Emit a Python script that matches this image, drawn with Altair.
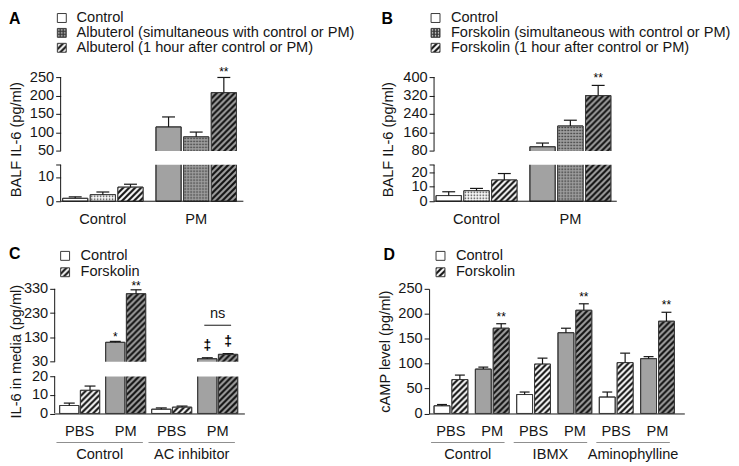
import altair as alt
import pandas as pd
from urllib.parse import quote

FONT = "Liberation Sans"
FS = 14.7
INK = "#161616"
EDGE = "#3a3a3a"
GRAY = "#a2a2a2"
LINEGRAY = "#8f8f8f"

# ---------------- values ----------------
A_groups = ["Control", "PM"]
A_legend = ["Control", "Albuterol (simultaneous with control or PM)", "Albuterol (1 hour after control or PM)"]
A_ctrl_mean = [1.2, 2.7, 5.8]
A_ctrl_sem = [0.6, 1.1, 1.2]
A_pm_mean = [115, 88, 208]
A_pm_sem = [27, 13, 41]
A_ticks = [0, 10, 15, 50, 100, 150, 200, 250]

B_groups = ["Control", "PM"]
B_legend = ["Control", "Forskolin (simultaneous with control or PM)", "Forskolin (1 hour after control or PM)"]
B_ctrl_mean = [3.9, 7.2, 14.6]
B_ctrl_sem = [2.6, 1.6, 4.4]
B_pm_mean = [98, 188, 320]
B_pm_sem = [16, 25, 44]
B_ticks = [0, 10, 20, 25, 80, 160, 240, 320, 400]

C_groups = ["Control", "AC inhibitor"]
C_stims = ["PBS", "PM"]
C_legend = ["Control", "Forskolin"]
C_ctrl_mean = [4.3, 109.5, 2.3, 42]
C_ctrl_sem = [1.3, 4, 0.7, 4]
C_fsk_mean = [12.5, 310, 3.4, 60]
C_fsk_sem = [2.3, 16, 0.6, 3]
C_ticks = [0, 10, 20, 30, 130, 230, 330]
C_ns_level = [180]

D_groups = ["Control", "IBMX", "Aminophylline"]
D_stims = ["PBS", "PM"]
D_legend = ["Control", "Forskolin"]
D_ctrl_mean = [15.5, 89, 38, 162, 33, 110]
D_ctrl_sem = [2.5, 4, 5, 9, 10, 4]
D_fsk_mean = [68, 171, 99, 207, 102, 185]
D_fsk_sem = [9, 9, 12, 13, 19, 18]
D_ticks = [0, 50, 100, 150, 200, 250]

DUMMY = pd.DataFrame({"k": [0]})


def svg_uri(s):
    return "data:image/svg+xml;charset=utf-8," + quote(s, safe="")


def hatch_svg(bg):
    return ("<svg xmlns='http://www.w3.org/2000/svg'><defs>"
            "<pattern id='p' width='6' height='6' patternUnits='userSpaceOnUse'>"
            f"<rect width='6' height='6' fill='{bg}'/>"
            "<path d='M-1,1 L1,-1 M0,6 L6,0 M5,7 L7,5' stroke='#111' stroke-width='2.2'/>"
            "</pattern></defs><rect width='100%' height='100%' fill='url(#p)'/></svg>")


def dot_svg(bg, dot):
    return ("<svg xmlns='http://www.w3.org/2000/svg'><defs>"
            "<pattern id='p' width='3' height='3' patternUnits='userSpaceOnUse'>"
            f"<rect width='3' height='3' fill='{bg}'/>"
            f"<rect x='0.8' y='0.8' width='1.4' height='1.4' fill='{dot}'/>"
            "</pattern></defs><rect width='100%' height='100%' fill='url(#p)'/></svg>")


U_HW = svg_uri(hatch_svg("#ffffff"))
U_HG = svg_uri(hatch_svg(GRAY))
U_DW = svg_uri(dot_svg("#ffffff", "#222"))
U_DG = svg_uri(dot_svg(GRAY, "#222"))
U_DL = svg_uri(dot_svg("#333", "#ffffff"))
URL_EXPR = (f"datum.pat == 'hatch' ? (datum.bg == 'gray' ? '{U_HG}' : '{U_HW}') : "
            f"(datum.bg == 'gray' ? '{U_DG}' : '{U_DW}')")
LEG_URL = {"hatch": U_HW, "dot": U_DL}


def df_grouped(groups, ctrl_mean, ctrl_sem, pm_mean, pm_sem):
    pats = ["none", "dot", "hatch"]
    rows = []
    for g, means, sems in [(groups[0], ctrl_mean, ctrl_sem), (groups[1], pm_mean, pm_sem)]:
        for i, (mu, se) in enumerate(zip(means, sems)):
            rows.append(dict(x=g, t=f"t{i}", mean=mu, top=mu + se,
                             bg="white" if g == groups[0] else "gray", pat=pats[i]))
    return pd.DataFrame(rows)


def df_cond(groups, stims, ctrl_mean, ctrl_sem, fsk_mean, fsk_sem):
    conds = [f"{g}|{s}" for g in groups for s in stims]
    rows = []
    for k, c in enumerate(conds):
        s = c.split("|")[1]
        for t, mu, se, pat in [("t0", ctrl_mean[k], ctrl_sem[k], "none"),
                               ("t1", fsk_mean[k], fsk_sem[k], "hatch")]:
            rows.append(dict(x=c, t=t, mean=mu, top=mu + se,
                             bg="white" if s == "PBS" else "gray", pat=pat))
    return pd.DataFrame(rows), conds


def band_scale(domain, W, start, step, bw):
    n = len(domain)
    pi = 1 - bw / step
    po = (W / step - n + pi) / 2
    rem = W - step * (n - pi)
    return alt.Scale(domain=domain, paddingInner=pi, paddingOuter=po, align=start / rem)


def disp_py(v, m):
    if m is None:
        return v
    lo, lp, um, up0, uM, H = m
    return v * lp / lo if v <= lo else up0 + (v - um) * (H - up0) / (uM - um)


def disp_js(f, m):
    if m is None:
        return f"datum.{f}"
    lo, lp, um, up0, uM, H = m
    return (f"(datum.{f} <= {lo} ? datum.{f} * {lp / lo} : "
            f"{up0} + (datum.{f} - {um}) * {(H - up0) / (uM - um)})")


def label_js(m, blank_top):
    if m is None:
        return "datum.label"
    lo, lp, um, up0, uM, H = m
    low = f"format(datum.value * {lo / lp}, '.0f')"
    up = f"format({um} + (datum.value - {up0}) * {(uM - um) / (H - up0)}, '.0f')"
    e = f"datum.value < {(lp + up0) / 2} ? {low} : {up}"
    if blank_top:
        e = f"abs(datum.value - {lp}) < 0.3 ? '' : ({e})"
    return e


def legend_layers(items, sq_x, txt_x, rows, size=9):
    out = []
    for (kind, label), cy in zip(items, rows):
        box = dict(x=alt.value(sq_x), x2=alt.value(sq_x + size),
                   y=alt.value(cy - size / 2), y2=alt.value(cy + size / 2))
        if kind == "plain":
            out.append(alt.Chart(DUMMY).mark_rect(fill="white", stroke=EDGE, strokeWidth=1).encode(**box))
        else:
            out.append(alt.Chart(DUMMY).mark_image(aspect=False).encode(url=alt.value(LEG_URL[kind]), **box))
            out.append(alt.Chart(DUMMY).mark_rect(fillOpacity=0, stroke=EDGE, strokeWidth=1).encode(**box))
        out.append(alt.Chart(DUMMY).mark_text(text=label, align="left", baseline="middle", fontSize=FS,
                                              font=FONT, color=INK)
                   .encode(x=alt.value(txt_x), y=alt.value(cy)))
    return out


AX_STYLE = dict(labelFont=FONT, titleFont=FONT, labelFontSize=FS, titleFontSize=FS, titleFontWeight="normal",
                labelColor=INK, titleColor=INK, domainColor=INK, tickColor=INK, domainWidth=1, tickWidth=1,
                grid=False, labelOverlap=False)


def make_panel(P):
    df, m, W, H = P["df"], P["m"], P["W"], P["H"]
    ax_x = P["axis_x"]
    ys = alt.Scale(domain=[0, H if m else P["ymax"]], nice=False)
    xs = P["xscale"]
    ykw = dict(title=P["ytitle"], titlePadding=P["title_pad"], domain=(m is None),
               tickSize=5, labelPadding=2, values=[disp_py(v, m) for v in P["ticks"]],
               labelExpr=label_js(m, P["blank_top"]), **AX_STYLE)
    if ax_x:
        ykw["offset"] = -ax_x
    yaxis = alt.Axis(**ykw)
    xkw = dict(title=None, labelAngle=0, ticks=False, labelPadding=10, domain=(ax_x == 0), **AX_STYLE)
    if P.get("xlabel_expr"):
        xkw["labelExpr"] = P["xlabel_expr"]
    xaxis = alt.Axis(**xkw)

    def X(**kw):
        return alt.X("x:N", scale=xs, axis=xaxis, **kw)

    def Y(f):
        return alt.Y(f"{f}:Q", scale=ys, axis=yaxis)

    base = alt.Chart(df).transform_calculate(yb=disp_js("mean", m), yt=disp_js("top", m))
    fill = alt.Fill("bg:N", scale=alt.Scale(domain=["white", "gray"], range=["#ffffff", GRAY]), legend=None)
    treats = P["treats"]
    n = len(treats)
    bar, gapw = P["bar"], P["gap"]
    dxs = {t: (i - (n - 1) / 2) * (bar + gapw) for i, t in enumerate(treats)}
    layers = []
    err_layers = []
    for t in treats:
        dx = dxs[t]
        sub = base.transform_filter(f"datum.t == '{t}'")
        layers.append(sub.mark_bar(width=bar, xOffset=dx, stroke=EDGE, strokeWidth=1).encode(
            x=X(), y=Y("yb"), fill=fill))
        layers.append(sub.transform_filter("datum.pat != 'none'").transform_calculate(url=URL_EXPR)
                      .mark_image(width=bar, xOffset=dx, aspect=False)
                      .encode(x=X(), y=Y("yb"), y2=alt.datum(0), url="url:N"))
        layers.append(sub.mark_bar(width=bar, xOffset=dx, fillOpacity=0, stroke=EDGE, strokeWidth=1)
                      .encode(x=X(), y=Y("yb")))
        err_layers.append(sub.mark_rule(xOffset=dx, color=INK, strokeWidth=1.2)
                          .encode(x=X(), y=Y("yb"), y2="yt:Q"))
        err_layers.append(sub.mark_tick(xOffset=dx, orient="horizontal", size=P["cap"], thickness=1.2,
                                        color=INK, opacity=1).encode(x=X(), y=Y("yt")))
    if m is not None:
        lo, lp, um, up0, uM, _ = m
        gap = alt.Chart(pd.DataFrame({"lo": [lo], "hi": [um]})).transform_calculate(
            a=disp_js("lo", m), b=disp_js("hi", m))
        layers.append(gap.mark_rect(fill="white").encode(
            x=alt.value(ax_x + 0.7), x2=alt.value(W), y=Y("a"), y2="b:Q"))
        seg = alt.Chart(pd.DataFrame({"s": [0, um], "e": [lo, uM]})).transform_calculate(
            a=disp_js("s", m), b=disp_js("e", m))
        layers.append(seg.mark_rule(color=INK, strokeWidth=1).encode(x=alt.value(ax_x), y=Y("a"), y2="b:Q"))
    if ax_x != 0:
        layers.append(alt.Chart(DUMMY).mark_rule(color=INK, strokeWidth=1).encode(
            x=alt.value(ax_x), x2=alt.value(W), y=alt.value(H)))
    layers += err_layers
    for (xv, t, lab, dy, size, weight) in P.get("annots", []):
        sub = df[(df.x == xv) & (df.t == t)].assign(lab=lab)
        layers.append(alt.Chart(sub).transform_calculate(yt=disp_js("top", m)).mark_text(
            baseline="alphabetic", dy=dy, xOffset=dxs[t], fontSize=size, fontWeight=weight,
            font=FONT, color="#000").encode(x=X(), y=Y("yt"), text="lab:N"))
    if P.get("ns"):
        xv, lvl, length = P["ns"]
        nsbase = alt.Chart(pd.DataFrame({"x": [xv], "lvl": [lvl]})).transform_calculate(yl=disp_js("lvl", m))
        layers.append(nsbase.mark_tick(orient="horizontal", size=length, thickness=1, color=INK, opacity=1)
                      .encode(x=X(), y=Y("yl")))
        layers.append(nsbase.mark_text(text="ns", baseline="alphabetic", dy=-7, fontSize=FS, font=FONT,
                                       color=INK).encode(x=X(), y=Y("yl")))
    if P.get("groups"):
        gdf = pd.DataFrame(P["groups"])
        layers.append(alt.Chart(gdf).mark_tick(orient="horizontal", size=P["gline"], thickness=1,
                                               xOffset=P["bw"] / 2, color=LINEGRAY, opacity=1).encode(
            x=X(), y=alt.value(H + 29.3)))
        layers.append(alt.Chart(gdf).mark_text(baseline="middle", fontSize=FS, font=FONT, color=INK,
                                               xOffset=P["bw"] / 2).encode(
            x=X(), y=alt.value(H + 42.3), text="label:N"))
    layers += legend_layers(P["legend"], P["sq_x"], P["txt_x"], P["legend_rows"])
    layers.append(alt.Chart(DUMMY).mark_text(text=P["letter"], fontSize=16, fontWeight="bold", font=FONT,
                                             align="left", baseline="middle", color="#000").encode(
        x=alt.value(P["letter_xy"][0]), y=alt.value(P["letter_xy"][1])))
    if P.get("anchor"):
        ax, ay = P["anchor"]
        layers.append(alt.Chart(DUMMY).mark_rule(opacity=0).encode(
            x=alt.value(ax), x2=alt.value(ax), y=alt.value(ay), y2=alt.value(ay)))
    return alt.layer(*layers).properties(width=W, height=H)


# ---------------- panel A ----------------
dfA = df_grouped(A_groups, A_ctrl_mean, A_ctrl_sem, A_pm_mean, A_pm_sem)
pA = make_panel(dict(
    df=dfA, m=(15, 36.7, 50, 50.7, 250, 125), W=190, H=125, axis_x=6,
    xscale=band_scale(A_groups, 190, 8, 94, 81), treats=["t0", "t1", "t2"], bar=25.33, gap=2.5, bw=81,
    ticks=A_ticks, blank_top=True, ytitle="BALF IL-6 (pg/ml)", title_pad=6, cap=13,
    annots=[("PM", "t2", "**", -1, 12, "normal")],
    legend=list(zip(["plain", "dot", "hatch"], A_legend)), sq_x=2.7, txt_x=22,
    legend_rows=[-59.5, -44.5, -29.5], letter="A", letter_xy=(-46, -58.5), anchor=(-46, -67)))

# ---------------- panel B ----------------
dfB = df_grouped(B_groups, B_ctrl_mean, B_ctrl_sem, B_pm_mean, B_pm_sem)
pB = make_panel(dict(
    df=dfB, m=(25, 36.7, 80, 50.7, 400, 125), W=189, H=125, axis_x=5,
    xscale=band_scale(B_groups, 189, 7, 94.5, 81.5), treats=["t0", "t1", "t2"], bar=25.5, gap=2.5, bw=81.5,
    ticks=B_ticks, blank_top=True, ytitle="BALF IL-6 (pg/ml)", title_pad=7, cap=13,
    annots=[("PM", "t2", "**", -3, 12, "normal")],
    legend=list(zip(["plain", "dot", "hatch"], B_legend)), sq_x=2, txt_x=22,
    legend_rows=[-59.5, -44.5, -29.5], letter="B", letter_xy=(-48, -58.5)))

# ---------------- panel C ----------------
dfC, C_conds = df_cond(C_groups, C_stims, C_ctrl_mean, C_ctrl_sem, C_fsk_mean, C_fsk_sem)
pC = make_panel(dict(
    df=dfC, m=(20, 37.3, 30, 52.2, 330, 125.5), W=191, H=125.5, axis_x=0,
    xscale=band_scale(C_conds, 191, 5, 46.33, 40.3), treats=["t0", "t1"], bar=19.4, gap=1.5, bw=40.3,
    ticks=C_ticks, blank_top=False, ytitle="IL-6 in media (pg/ml)", title_pad=0, cap=11,
    xlabel_expr="split(datum.label, '|')[1]",
    annots=[(C_conds[1], "t0", "*", 0, 12, "normal"), (C_conds[1], "t1", "**", 0, 12, "normal"),
            (C_conds[3], "t0", "\u2021", -8, 14, "bold"), (C_conds[3], "t1", "\u2021", -8, 14, "bold")],
    ns=(C_conds[3], C_ns_level[0], 27),
    groups=dict(x=[C_conds[0], C_conds[2]], label=C_groups), gline=87,
    legend=list(zip(["plain", "hatch"], C_legend)), sq_x=6, txt_x=26,
    legend_rows=[-33.2, -16.7], letter="C", letter_xy=(-46, -35.2)))

# ---------------- panel D ----------------
dfD, D_conds = df_cond(D_groups, D_stims, D_ctrl_mean, D_ctrl_sem, D_fsk_mean, D_fsk_sem)
pD = make_panel(dict(
    df=dfD, m=None, ymax=250, W=257, H=125.5, axis_x=0,
    xscale=band_scale(D_conds, 257, 5, 41.6, 34), treats=["t0", "t1"], bar=16, gap=2, bw=34,
    ticks=D_ticks, blank_top=False, ytitle="cAMP level (pg/ml)", title_pad=5, cap=10,
    xlabel_expr="split(datum.label, '|')[1]",
    annots=[(D_conds[1], "t1", "**", -3, 12, "normal"), (D_conds[3], "t1", "**", -3, 12, "normal"),
            (D_conds[5], "t1", "**", -3, 12, "normal")],
    groups=dict(x=[D_conds[0], D_conds[2], D_conds[4]], label=D_groups), gline=74,
    legend=list(zip(["plain", "hatch"], D_legend)), sq_x=7, txt_x=27,
    legend_rows=[-33.2, -16.7], letter="D", letter_xy=(-46, -34.2)))

chart = alt.concat(pA, pB, pC, pD, columns=2, spacing={"row": 88.2, "column": 186},
                   bounds="flush", align="each").properties(padding=0)
chart = chart.configure_view(stroke=None)

chart.save("out.html", embed_options={"renderer": "svg", "actions": False})
